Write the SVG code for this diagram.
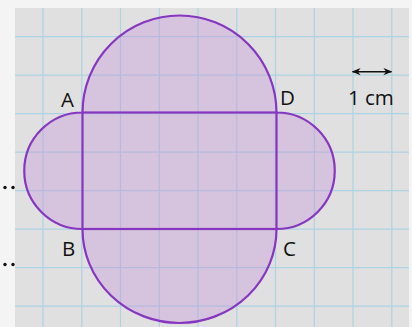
<svg xmlns="http://www.w3.org/2000/svg" width="412" height="327" viewBox="0 0 412 327">
<style>
.grid line{stroke:#acd3e3;stroke-width:1.2}
.lbl{font-family:"Open Sans","Liberation Sans",sans-serif;font-size:20.5px;fill:#111}
.outline{fill:none;stroke:#8636c0;stroke-width:2.2}
</style>
<defs>
<marker id="ah" viewBox="0 0 10 10" refX="9" refY="5" markerWidth="9" markerHeight="9" orient="auto-start-reverse" markerUnits="userSpaceOnUse">
<path d="M0,1 L10,5 L0,9 L3,5 Z" fill="#111"/>
</marker>
</defs>
<rect width="412" height="327" fill="#f4f4f4"/>
<rect x="15" y="8" width="394" height="319" fill="#e0e0e0"/>
<g class="grid">
<line x1="43" y1="8" x2="43" y2="327"/>
<line x1="81.8" y1="8" x2="81.8" y2="327"/>
<line x1="120.5" y1="8" x2="120.5" y2="327"/>
<line x1="159.3" y1="8" x2="159.3" y2="327"/>
<line x1="198" y1="8" x2="198" y2="327"/>
<line x1="236.8" y1="8" x2="236.8" y2="327"/>
<line x1="275.5" y1="8" x2="275.5" y2="327"/>
<line x1="314.3" y1="8" x2="314.3" y2="327"/>
<line x1="353" y1="8" x2="353" y2="327"/>
<line x1="391.8" y1="8" x2="391.8" y2="327"/>
<line x1="15" y1="36.7" x2="409" y2="36.7"/>
<line x1="15" y1="75.2" x2="409" y2="75.2"/>
<line x1="15" y1="113.7" x2="409" y2="113.7"/>
<line x1="15" y1="152.2" x2="409" y2="152.2"/>
<line x1="15" y1="190.7" x2="409" y2="190.7"/>
<line x1="15" y1="229.2" x2="409" y2="229.2"/>
<line x1="15" y1="267.7" x2="409" y2="267.7"/>
<line x1="15" y1="306.2" x2="409" y2="306.2"/>
</g>
<g id="shape">
<path d="M82.5,112.5 A97,97 0 0 1 276.5,112.5 A58.25,58.25 0 0 1 276.5,229 A97,94 0 0 1 82.5,229 A58.25,58.25 0 0 1 82.5,112.5 Z" fill="#c590d8" fill-opacity="0.36" stroke="#8636c0" stroke-width="2.2"/>
<rect class="outline" x="82.5" y="112.5" width="194" height="116.5"/>
</g>
<g id="labels">
<text class="lbl" x="61" y="107">A</text>
<text class="lbl" x="280" y="105">D</text>
<text class="lbl" x="62" y="256">B</text>
<text class="lbl" x="283" y="256">C</text>
</g>
<g id="scale">
<line x1="352.5" y1="71.7" x2="391.5" y2="71.7" stroke="#111" stroke-width="1.4" marker-start="url(#ah)" marker-end="url(#ah)"/>
<text class="lbl" x="348" y="104.5">1 cm</text>
</g>
<g id="dots" fill="#111">
<circle cx="5" cy="187.5" r="1.7"/>
<circle cx="13" cy="187.5" r="1.7"/>
<circle cx="5" cy="264.5" r="1.7"/>
<circle cx="13" cy="264.5" r="1.7"/>
</g>
</svg>
